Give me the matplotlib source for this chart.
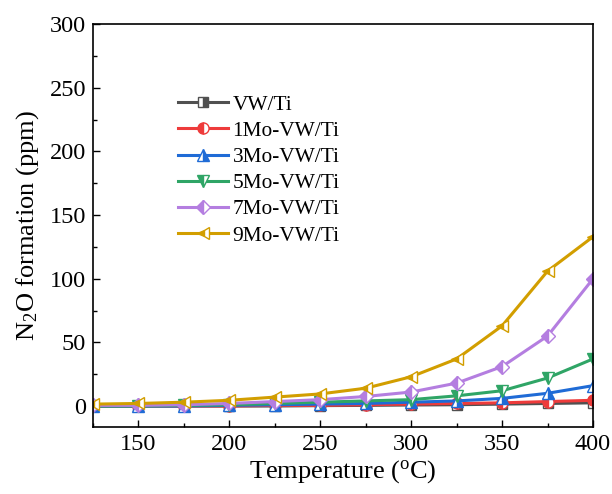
import matplotlib
matplotlib.use("Agg")
import matplotlib.pyplot as plt
from matplotlib.ticker import MultipleLocator

plt.rcParams['font.family'] = ['Liberation Serif', 'DejaVu Serif']
plt.rcParams['mathtext.fontset'] = 'custom'
plt.rcParams['mathtext.rm'] = 'Liberation Serif'

temps = [125, 150, 175, 200, 225, 250, 275, 300, 325, 350, 375, 400]
labels = ['VW/Ti', '1Mo-VW/Ti', '3Mo-VW/Ti', '5Mo-VW/Ti', '7Mo-VW/Ti', '9Mo-VW/Ti']
vw = [0, 0, 0, 0, 0, 0.3, 0.5, 0.8, 1, 1.5, 2, 2.5]
mo1 = [0, 0, 0, 0, 0.5, 0.5, 1, 1.5, 2, 2.5, 3.5, 4.5]
mo3 = [0, 0, 0, 0.5, 1, 1.5, 2, 3, 4, 6, 10, 16]
mo5 = [0, 0, 0.5, 1, 2, 3, 4, 5, 8, 12, 22, 37]
mo7 = [0.5, 0.5, 1, 2, 3.5, 5, 7.5, 11, 18, 31, 55, 100]
mo9 = [1.5, 2, 3, 4.5, 7, 9.5, 14, 23, 37, 63, 106, 133]
series = [vw, mo1, mo3, mo5, mo7, mo9]
colors = ['#505050', '#ee3b3b', '#1f6bd6', '#2fa566', '#b47ee0', '#d29e00']
markers = ['s', 'o', '^', 'v', 'D', '<']
fills = ['right', 'left', 'right', 'left', 'left', 'left']
msizes = [7, 8, 8, 8, 7, 8]

fig = plt.figure(figsize=(6.12, 4.94), dpi=100)
ax = fig.add_axes([0.152, 0.1356, 0.817, 0.8154])
for y, lab, c, m, f, ms in zip(series, labels, colors, markers, fills, msizes):
    ax.plot(temps, y, color=c, lw=2.2, marker=m, ms=ms, fillstyle=f,
            markerfacecoloralt='white', markeredgecolor=c, markeredgewidth=1.0,
            label=lab, clip_on=True)

ax.set_xlim(125, 400)
ax.set_ylim(-16.5, 300)
ax.xaxis.set_minor_locator(MultipleLocator(25))
ax.yaxis.set_major_locator(MultipleLocator(50))
ax.yaxis.set_minor_locator(MultipleLocator(25))
ax.set_xticks([150, 200, 250, 300, 350, 400])
ax.tick_params(which='both', direction='in', top=False, right=False, labelsize=17.5)
ax.tick_params(which='major', length=5, width=1, pad=5)
ax.tick_params(which='minor', length=3, width=1)
for s in ax.spines.values():
    s.set_linewidth(1.2)
ax.set_xlabel('Temperature ($\\mathregular{^{o}}$C)', fontsize=19, labelpad=2)
ax.set_ylabel('N$\\mathregular{_2}$O formation (ppm)', fontsize=19, labelpad=6)
leg = ax.legend(loc='upper left', bbox_to_anchor=(0.17, 0.825), frameon=False,
                fontsize=15.4, handlelength=2.35, handletextpad=0.2,
                labelspacing=0.29, borderaxespad=0, borderpad=0)
fig.savefig('out.png', dpi=100)
